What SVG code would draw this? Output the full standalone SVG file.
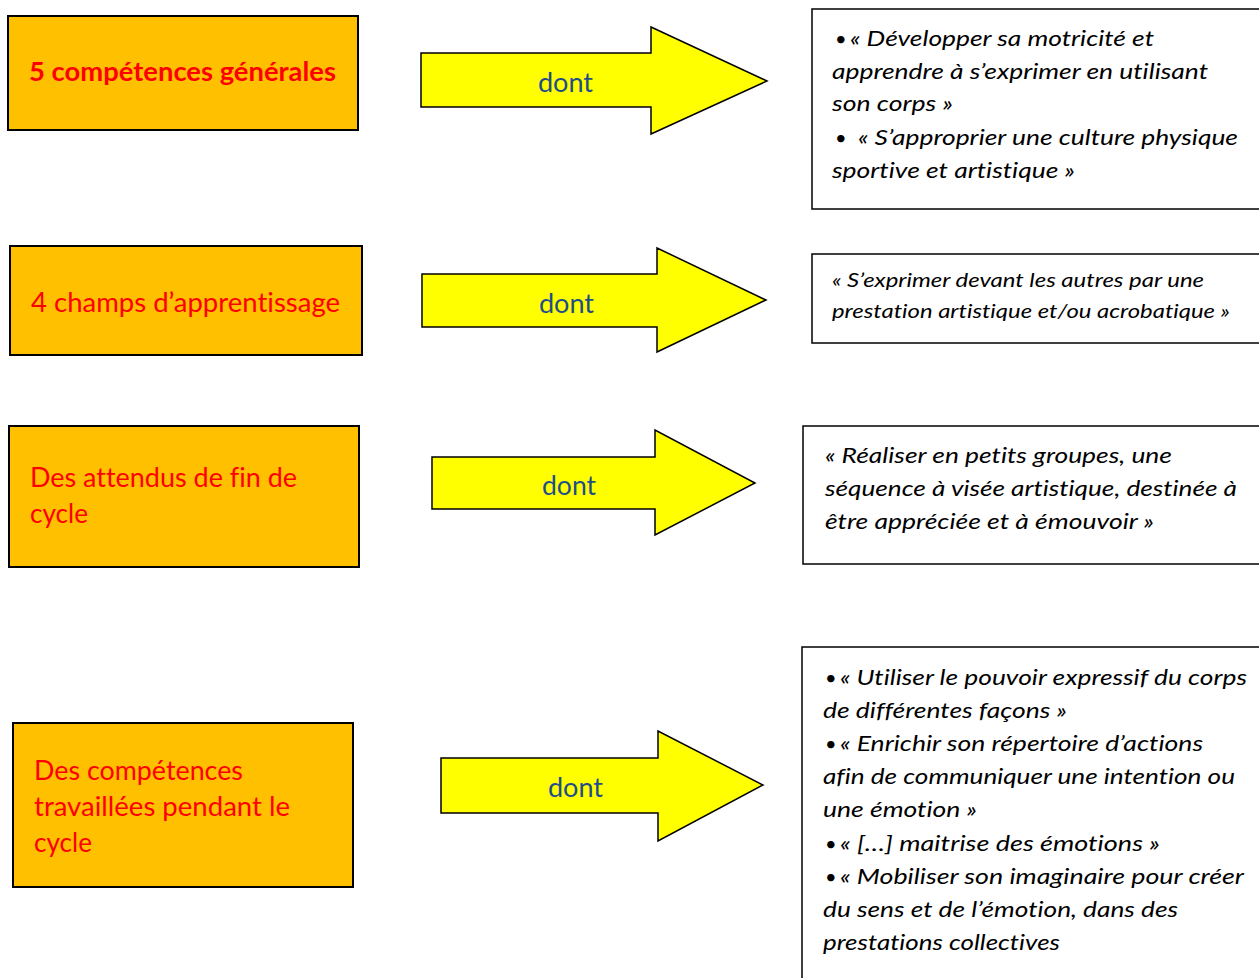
<svg xmlns="http://www.w3.org/2000/svg" width="1259" height="978" viewBox="0 0 1259 978">
<style>
text{font-variant-ligatures:none}
.nb{fill:#FFC000;stroke:#000;stroke-width:2}
.nt{font-family:Lato,"Open Sans","Liberation Sans",sans-serif;font-size:26px;fill:#FF0000}
.arr{fill:#FFFF00;stroke:#000;stroke-width:1.5;stroke-linejoin:miter}
.dt{font-family:Lato,"Open Sans","Liberation Sans",sans-serif;font-size:26px;fill:#1F4E8A}
.tb{fill:#fff;stroke:#000;stroke-width:1.5}
.tt{font-family:Lato,"Open Sans","Liberation Sans",sans-serif;font-style:italic;font-size:22px;fill:#000}
.ts{font-family:Lato,"Open Sans","Liberation Sans",sans-serif;font-style:italic;font-size:20px;fill:#000}
.bu{font-family:Lato,"Open Sans","Liberation Sans",sans-serif;font-size:20px;fill:#000}
</style>
<rect width="1259" height="978" fill="#fff"/>

<g id="node1">
<rect class="nb" x="8" y="16" width="350" height="114"/>
<text class="nt" x="29" y="81" font-weight="bold" textLength="307" lengthAdjust="spacingAndGlyphs">5 compétences générales</text>
</g>
<g id="node2">
<rect class="nb" x="10" y="246" width="352" height="109"/>
<text class="nt" x="31" y="312" textLength="309" lengthAdjust="spacingAndGlyphs">4 champs d’apprentissage</text>
</g>
<g id="node3">
<rect class="nb" x="9" y="426" width="350" height="141"/>
<text class="nt" x="30" y="487" textLength="267" lengthAdjust="spacingAndGlyphs">Des attendus de fin de</text>
<text class="nt" x="30" y="523" textLength="58" lengthAdjust="spacingAndGlyphs">cycle</text>
</g>
<g id="node4">
<rect class="nb" x="13" y="723" width="340" height="164"/>
<text class="nt" x="34" y="780" textLength="209" lengthAdjust="spacingAndGlyphs">Des compétences</text>
<text class="nt" x="34" y="816" textLength="256" lengthAdjust="spacingAndGlyphs">travaillées pendant le</text>
<text class="nt" x="34" y="852" textLength="58" lengthAdjust="spacingAndGlyphs">cycle</text>
</g>

<g id="connectors">
<g id="arrow1">
<polygon class="arr" points="421,53 651,53 651,27 767,81 651,134 651,107 421,107"/>
<text class="dt" x="538" y="92" textLength="55" lengthAdjust="spacingAndGlyphs">dont</text>
</g>
<g id="arrow2">
<polygon class="arr" points="422,274 657,274 657,248 766,300 657,352 657,327 422,327"/>
<text class="dt" x="539" y="313" textLength="55" lengthAdjust="spacingAndGlyphs">dont</text>
</g>
<g id="arrow3">
<polygon class="arr" points="432,457 655,457 655,430 755,483 655,535 655,509 432,509"/>
<text class="dt" x="542" y="495" textLength="54" lengthAdjust="spacingAndGlyphs">dont</text>
</g>
<g id="arrow4">
<polygon class="arr" points="441,758 658,758 658,731 763,785 658,841 658,813 441,813"/>
<text class="dt" x="548" y="797" textLength="55" lengthAdjust="spacingAndGlyphs">dont</text>
</g>
</g>

<g id="text1">
<rect class="tb" x="812" y="9" width="460" height="200"/>
<text class="bu" x="835" y="46">•</text>
<text class="tt" x="850" y="46" textLength="304" lengthAdjust="spacingAndGlyphs">« Développer sa motricité et</text>
<text class="tt" x="832" y="79" textLength="376" lengthAdjust="spacingAndGlyphs">apprendre à s’exprimer en utilisant</text>
<text class="tt" x="832" y="111" textLength="121" lengthAdjust="spacingAndGlyphs">son corps »</text>
<text class="bu" x="835" y="145">•</text>
<text class="tt" x="858" y="145" textLength="380" lengthAdjust="spacingAndGlyphs">« S’approprier une culture physique</text>
<text class="tt" x="832" y="178" textLength="243" lengthAdjust="spacingAndGlyphs">sportive et artistique »</text>
</g>
<g id="text2">
<rect class="tb" x="812" y="254" width="460" height="89"/>
<text class="ts" x="832" y="287" textLength="372" lengthAdjust="spacingAndGlyphs">« S’exprimer devant les autres par une</text>
<text class="ts" x="832" y="318" textLength="398" lengthAdjust="spacingAndGlyphs">prestation artistique et/ou acrobatique »</text>
</g>
<g id="text3">
<rect class="tb" x="803" y="426" width="470" height="138"/>
<text class="tt" x="825" y="463" textLength="347" lengthAdjust="spacingAndGlyphs">« Réaliser en petits groupes, une</text>
<text class="tt" x="825" y="496" textLength="412" lengthAdjust="spacingAndGlyphs">séquence à visée artistique, destinée à</text>
<text class="tt" x="825" y="529" textLength="329" lengthAdjust="spacingAndGlyphs">être appréciée et à émouvoir »</text>
</g>
<g id="text4">
<rect class="tb" x="802" y="647" width="470" height="345"/>
<text class="bu" x="825" y="685">•</text>
<text class="tt" x="840" y="685" textLength="407" lengthAdjust="spacingAndGlyphs">« Utiliser le pouvoir expressif du corps</text>
<text class="tt" x="823" y="718" textLength="244" lengthAdjust="spacingAndGlyphs">de différentes façons »</text>
<text class="bu" x="825" y="751">•</text>
<text class="tt" x="840" y="751" textLength="363" lengthAdjust="spacingAndGlyphs">« Enrichir son répertoire d’actions</text>
<text class="tt" x="823" y="784" textLength="412" lengthAdjust="spacingAndGlyphs">afin de communiquer une intention ou</text>
<text class="tt" x="823" y="817" textLength="154" lengthAdjust="spacingAndGlyphs">une émotion »</text>
<text class="bu" x="825" y="851">•</text>
<text class="tt" x="840" y="851" textLength="320" lengthAdjust="spacingAndGlyphs">« […] maitrise des émotions »</text>
<text class="bu" x="825" y="884">•</text>
<text class="tt" x="840" y="884" textLength="404" lengthAdjust="spacingAndGlyphs">« Mobiliser son imaginaire pour créer</text>
<text class="tt" x="823" y="917" textLength="355" lengthAdjust="spacingAndGlyphs">du sens et de l’émotion, dans des</text>
<text class="tt" x="823" y="950" textLength="237" lengthAdjust="spacingAndGlyphs">prestations collectives</text>
</g>
</svg>
